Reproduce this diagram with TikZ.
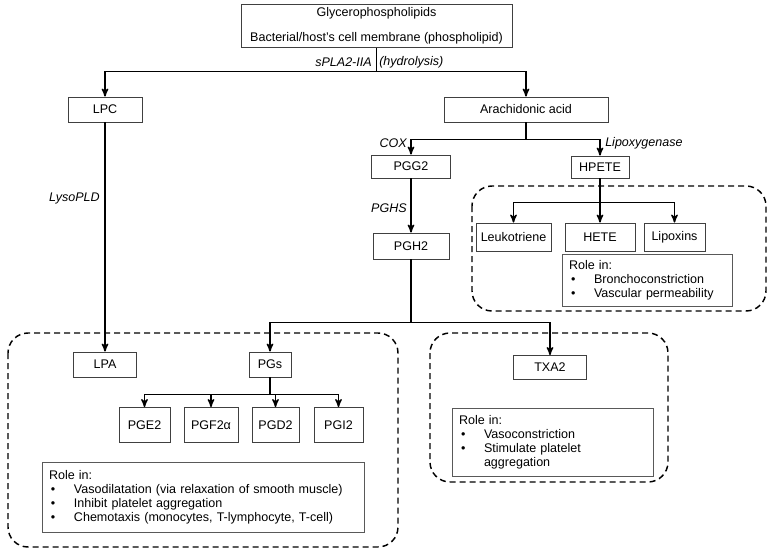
\documentclass[tikz,border=0pt]{standalone}
\usepackage{fontspec}
\setmainfont{Liberation Sans}
\usetikzlibrary{arrows}

\newcommand{\px}{0.75pt}
\newcommand{\bul}{\makebox[18.75pt][l]{\hspace{1.5pt}\textbullet}}

\begin{document}
\begin{tikzpicture}[x=\px,y=-\px,>=stealth',
	font=\fontsize{9.4}{10.5}\selectfont,
	box/.style={draw=black!75, line width=0.7pt, inner sep=0pt, align=center},
	role/.style={draw=black!65, line width=0.7pt, inner xsep=5.25pt, align=left},
	lbl/.style={font=\fontsize{9.4}{10.5}\selectfont\itshape, inner sep=0pt},
	link/.style={line width=1.1pt},
	zone/.style={line width=1.1pt, dash pattern=on 4.5pt off 3pt, rounded corners=15pt}]
	\useasboundingbox (0,0) rectangle (778,554);

	% dashed groups
	\draw[zone] (472,186) rectangle (766,311);
	\draw[zone] (430,333) rectangle (668,482);
	\draw[zone] (8,333) rectangle (398,547);

	\node[box, minimum width=271*\px, minimum height=43*\px] (glyc) at (376.5,26)
		{Glycerophospholipids\\[8.5pt]Bacterial/host's cell membrane (phospholipid)};
	\node[box, minimum width=74*\px, minimum height=25*\px] (lpc) at (105,109.5) {LPC};
	\node[box, minimum width=164*\px, minimum height=25*\px] (arach) at (526,109.5) {Arachidonic acid};
	\node[box, minimum width=79*\px, minimum height=23*\px] (pgg) at (411,166.5) {PGG2};
	\node[box, minimum width=58*\px, minimum height=22*\px] (hpete) at (600,167) {HPETE};
	\node[box, minimum width=76*\px, minimum height=26*\px] (pgh) at (411,246) {PGH2};
	\node[box, minimum width=75*\px, minimum height=28*\px] (leuko) at (513.5,237) {Leukotriene};
	\node[box, minimum width=70*\px, minimum height=28*\px] (hete) at (600,237) {HETE};
	\node[box, minimum width=61*\px, minimum height=28*\px] (lipox) at (674.5,237) {Lipoxins};
	\node[box, minimum width=73*\px, minimum height=24*\px] (txa) at (550,367.5) {TXA2};
	\node[box, minimum width=63*\px, minimum height=25*\px] (lpa) at (105,364.5) {LPA};
	\node[box, minimum width=42*\px, minimum height=25*\px] (pgs) at (270,364.5) {PGs};
	\node[box, minimum width=51*\px, minimum height=35*\px] (pge) at (144.5,425) {PGE2};
	\node[box, minimum width=54*\px, minimum height=35*\px] (pgf) at (211,425) {PGF2α};
	\node[box, minimum width=47*\px, minimum height=35*\px] (pgd) at (275.5,425) {PGD2};
	\node[box, minimum width=49*\px, minimum height=35*\px] (pgi) at (338.5,425) {PGI2};

	% roles
	\node[role, text width=117pt, minimum height=39pt] (role1) at (647,280)
		{Role in:\\ \bul Bronchoconstriction\\ \bul Vascular permeability};
	\node[role, text width=140.25pt, minimum height=51pt] (role2) at (552.5,442)
		{Role in:\\ \bul Vasoconstriction\\ \bul Stimulate platelet\\ \hspace*{18.75pt}aggregation};
	\node[role, text width=231pt, minimum height=52.5pt] (role3) at (203,497)
		{Role in:\\ \bul Vasodilatation (via relaxation of smooth muscle)\\ \bul Inhibit platelet aggregation\\ \bul Chemotaxis (monocytes, T-lymphocyte, T-cell)};

	% enzymes
	\node[lbl, anchor=east] (spla) at (372,62) {sPLA2-IIA};
	\node[lbl, anchor=west] (hydro) at (379,62) {(hydrolysis)};
	\node[lbl, anchor=east] (lyso) at (100,198) {LysoPLD};
	\node[lbl, anchor=east] (cox) at (407,143) {COX};
	\node[lbl, anchor=west] (lipoxy) at (605,143) {Lipoxygenase};
	\node[lbl, anchor=east] (pghs) at (407,208) {PGHS};

	\draw[link] (glyc.south) -- ++(0,23.5) coordinate (s1);
	\draw[link,->] (s1) -| (lpc.north);
	\draw[link,->] (s1) -| (arach.north);
	\draw[link,->] (lpc) -- (lpa);
	\draw[link] (arach.south) -- ++(0,17) coordinate (s2);
	\draw[link,->] (s2) -| (pgg.north);
	\draw[link,->] (s2) -| (hpete.north);
	\draw[link,->] (pgg) -- (pgh);
	\draw[link] (hpete.south) -- ++(0,24) coordinate (s4);
	\draw[link,->] (s4) -| (leuko.north);
	\draw[link,->] (s4) -- (hete.north);
	\draw[link,->] (s4) -| (lipox.north);
	\draw[link] (pgh.south) -- ++(0,63) coordinate (s3);
	\draw[link,->] (s3) -| (pgs.north);
	\draw[link,->] (s3) -| (txa.north);
	\draw[link] (pgs.south) -- ++(0,17) coordinate (s5);
	\draw[link,->] (s5) -| (pge.north);
	\draw[link,->] (s5) -| (pgf.north);
	\draw[link,->] (s5) -| (pgd.north);
	\draw[link,->] (s5) -| (pgi.north);
\end{tikzpicture}
\end{document}
